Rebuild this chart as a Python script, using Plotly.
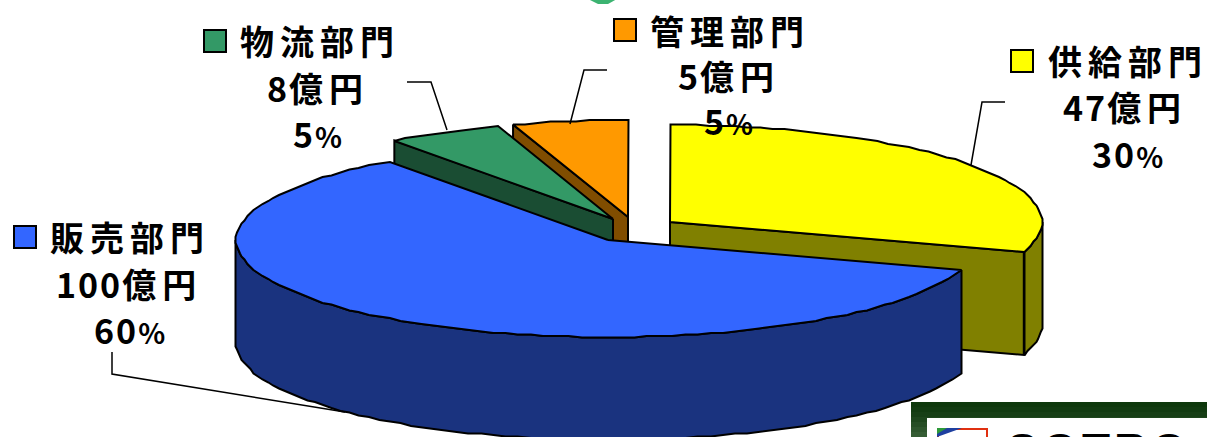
import re
import numpy as np
import plotly.graph_objects as go

# Business-unit breakdown, order runs clockwise from twelve o'clock
departments = ["供給部門", "販売部門", "物流部門", "管理部門"]
amounts_oku_yen = [47, 100, 8, 5]
shares_pct = [30, 60, 5, 5]

top_colors = ["#FFFF00", "#3366FF", "#339966", "#FF9900"]
side_colors = ["#808000", "#1A337F", "#1A4D33", "#804D00"]

# Apex of each exploded wedge on the page, in pixels
apexes = {"供給部門": (670, 222), "販売部門": (608, 240), "物流部門": (613, 219), "管理部門": (628, 217)}
RX, RY, DEPTH = 372, 97, 103

# Label block placement: swatch centre, then text centres for the three lines
label_layout = {
    "供給部門": dict(swatch=(1022, 61), lines=[(1128, 60), (1125, 106), (1127, 153)]),
    "販売部門": dict(swatch=(25, 237), lines=[(130, 236), (129, 283), (129, 329)]),
    "物流部門": dict(swatch=(215, 41), lines=[(320, 40), (318, 87), (317, 133)]),
    "管理部門": dict(swatch=(625, 30), lines=[(730, 30), (729, 75), (728, 120)]),
}
leaders = {
    "供給部門": ([1005, 982, 971], [102, 102, 165]),
    "販売部門": ([112, 112, 345], [352, 374, 412]),
    "物流部門": ([407, 431, 447], [82, 82, 130]),
    "管理部門": ([607, 584, 570], [70, 70, 124]),
}


def rim(apex, a0, a1, dy=0.0):
    """Points along a wedge's outer edge, snapped to a coarse grid for a stepped outline."""
    n = max(int(abs(a1 - a0) / 2.0), 1)
    t = np.radians(np.linspace(a0, a1, n + 1))
    x = apex[0] + RX * np.sin(t)
    y = apex[1] - RY * np.cos(t) + dy
    return np.round(x / 1.5) * 1.5, np.round(y / 1.5) * 1.5


def add_poly(fig, xs, ys, fill):
    fig.add_trace(go.Scatter(
        x=list(xs) + [xs[0]], y=list(ys) + [ys[0]], mode="lines", fill="toself",
        fillcolor=fill, line=dict(color="#000000", width=2), hoverinfo="skip",
    ))


def add_wedge(fig, name, a0, a1, top, side):
    apex = apexes[name]
    ax, ay = apex
    # Straight faces turned toward the viewer
    cut = a1 if a1 <= 180 else (a0 if a0 >= 180 else None)
    if cut is not None:
        t = np.radians(cut)
        ex, ey = ax + RX * np.sin(t), ay - RY * np.cos(t)
        add_poly(fig, [ax, ex, ex, ax], [ay, ey, ey + DEPTH, ay + DEPTH], side)
    # Outer wall, only the part of the rim turned toward the viewer
    w0, w1 = max(a0, 90), min(a1, 270)
    if w0 < w1:
        x0, y0 = rim(apex, w0, w1)
        x1, y1 = rim(apex, w1, w0, DEPTH)
        add_poly(fig, np.r_[x0, x1], np.r_[y0, y1], side)
    x, y = rim(apex, a0, a1)
    add_poly(fig, np.r_[ax, x], np.r_[ay, y], top)


def spaced(text):
    """Wide tracking on kanji, tighter on digits and a slimmer percent sign."""
    out = []
    for p in re.findall(r"[0-9]+|%|[^0-9%]+", text):
        if p.isdigit():
            out.append(f'<span style="letter-spacing:2px">{p}</span>')
        elif p == "%":
            out.append(f'<span style="font-size:28px">{p}</span>')
        else:
            out.append(f'<span style="letter-spacing:6px">{p}</span>')
    return "".join(out)


fig = go.Figure()

# Angles follow the stated shares; back wedges go first so the large slice overlaps them
spans = {}
start = 0.0
for name, pct in zip(departments, shares_pct):
    spans[name] = (start, start + pct * 3.6)
    start += pct * 3.6

for name in ["供給部門", "管理部門", "物流部門", "販売部門"]:
    i = departments.index(name)
    add_wedge(fig, name, *spans[name], top_colors[i], side_colors[i])

# Leader lines
for name in departments:
    lx, ly = leaders[name]
    fig.add_trace(go.Scatter(x=lx, y=ly, mode="lines", line=dict(color="#000000", width=1.5), hoverinfo="skip"))

# Swatches and three-line labels
annotations = []
shapes = []
for i, name in enumerate(departments):
    cfg = label_layout[name]
    sx, sy = cfg["swatch"]
    shapes.append(dict(type="rect", x0=sx - 11, x1=sx + 11, y0=sy - 11, y1=sy + 11,
                       fillcolor=top_colors[i], line=dict(color="#000000", width=2), layer="above"))
    texts = [name, f"{amounts_oku_yen[i]}億円", f"{shares_pct[i]}%"]
    for (tx, ty), s in zip(cfg["lines"], texts):
        annotations.append(dict(
            x=tx, y=ty, xref="x", yref="y", showarrow=False, xanchor="center", yanchor="middle",
            text=spaced(s),
            font=dict(family="Noto Sans CJK JP", size=34, color="#000000", weight=700),
        ))

# Header mark cut off by the top edge
fig.add_trace(go.Scatter(x=[588, 598, 608, 617, 588], y=[-1, 4, 4, -1, -1], mode="lines", fill="toself",
                         fillcolor="#3CB371", line=dict(width=0), hoverinfo="skip"))

# Framed logo box in the lower right corner, with a vertical green fade
frame_greens = ["#0E380C", "#123B11", "#173F16", "#1E461D", "#264D25", "#2E552D", "#355C34"]
for k, c in enumerate(frame_greens):
    shapes.append(dict(type="rect", x0=911, x1=1207, y0=402 + k * 5, y1=407 + k * 5,
                       fillcolor=c, line=dict(width=0), layer="above"))
shapes.append(dict(type="rect", x0=927, x1=1207, y0=418, y1=437, fillcolor="#FFFFFF", line=dict(width=0), layer="above"))
shapes.append(dict(type="rect", x0=938, x1=987, y0=429, y1=440, fillcolor="#FFFFFF", line=dict(color="#E03010", width=2), layer="above"))
shapes.append(dict(type="path", path="M937,428 L962,428 L937,437 Z", fillcolor="#1E3FA0", line=dict(width=0), layer="above"))
shapes.append(dict(type="path", path="M937,428 L947,428 L937,434 Z", fillcolor="#2E9A3A", line=dict(width=0), layer="above"))
annotations.append(dict(x=1003, y=431, xref="x", yref="y", xanchor="left", yanchor="top", showarrow=False,
                        yshift=9, text='<span style="letter-spacing:4px">COTRO</span>',
                        font=dict(family="Liberation Sans", size=46, color="#000000", weight=700)))

fig.update_layout(
    width=1207, height=437, margin=dict(l=0, r=0, t=0, b=0), showlegend=False,
    paper_bgcolor="#FFFFFF", plot_bgcolor="#FFFFFF",
    xaxis=dict(range=[0, 1207], visible=False, fixedrange=True),
    yaxis=dict(range=[437, 0], visible=False, fixedrange=True),
    shapes=shapes, annotations=annotations,
)
fig.write_html("out.html", config={"displayModeBar": False})
